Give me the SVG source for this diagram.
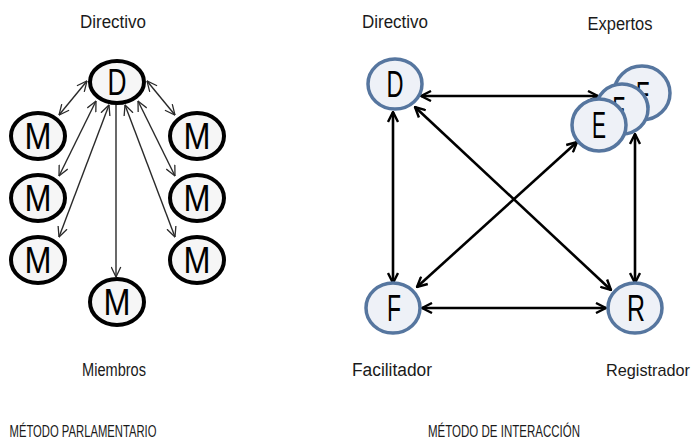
<svg xmlns="http://www.w3.org/2000/svg" width="699" height="445" viewBox="0 0 699 445">
<defs>
<style>
.lbl{font-family:"Liberation Sans",Arial,sans-serif;font-size:18px;fill:#1a1a1a;text-anchor:middle}
.ttl{font-family:"Liberation Sans",Arial,sans-serif;font-size:17px;fill:#1a1a1a;text-anchor:middle}
.ell{fill:#f6f6f6;stroke:#000;stroke-width:4}
.big{font-family:"Liberation Sans",Arial,sans-serif;font-size:36px;fill:#000;text-anchor:middle}
.circ{fill:#eef1f7;stroke:#56769f;stroke-width:3.5}
.thin{stroke:#2a2a2a;stroke-width:1.4;fill:none}
.thick{stroke:#000;stroke-width:2.6;fill:none}
</style>
<marker id="ah" viewBox="0 0 12 12" refX="11.5" refY="6" markerWidth="11" markerHeight="11" markerUnits="userSpaceOnUse" orient="auto-start-reverse">
<path d="M0.5,0.8 L11.5,6 L0.5,11.2" fill="none" stroke="#2a2a2a" stroke-width="1.4"/>
</marker>
<marker id="ahb" viewBox="0 0 12 12" refX="11" refY="6" markerWidth="12" markerHeight="12" markerUnits="userSpaceOnUse" orient="auto-start-reverse">
<path d="M1,1 L11,6 L1,11" fill="none" stroke="#000" stroke-width="2.4"/>
</marker>
</defs>
<rect width="699" height="445" fill="#fff"/>

<!-- Left diagram: connectors -->
<g id="connectors-left">
<line class="thin" x1="87" y1="81" x2="59" y2="115" marker-start="url(#ah)" marker-end="url(#ah)"/>
<line class="thin" x1="96" y1="101" x2="59" y2="176" marker-start="url(#ah)" marker-end="url(#ah)"/>
<line class="thin" x1="109" y1="105" x2="59" y2="237" marker-start="url(#ah)" marker-end="url(#ah)"/>
<line class="thin" x1="147" y1="81" x2="175" y2="115" marker-start="url(#ah)" marker-end="url(#ah)"/>
<line class="thin" x1="138" y1="101" x2="175" y2="176" marker-start="url(#ah)" marker-end="url(#ah)"/>
<line class="thin" x1="125" y1="105" x2="175" y2="237" marker-start="url(#ah)" marker-end="url(#ah)"/>
<line class="thin" x1="116" y1="104" x2="116" y2="277" marker-end="url(#ah)"/>
</g>

<g id="L-D"><ellipse class="ell" cx="117" cy="82" rx="27" ry="21"/><text class="big" x="117" y="95" textLength="19" lengthAdjust="spacingAndGlyphs">D</text></g>
<g id="L-M1"><ellipse class="ell" cx="38" cy="136" rx="27" ry="23"/><text class="big" x="38" y="149" textLength="27" lengthAdjust="spacingAndGlyphs">M</text></g>
<g id="L-M2"><ellipse class="ell" cx="38" cy="198" rx="27" ry="23"/><text class="big" x="38" y="211" textLength="27" lengthAdjust="spacingAndGlyphs">M</text></g>
<g id="L-M3"><ellipse class="ell" cx="38" cy="260" rx="27" ry="23"/><text class="big" x="38" y="273" textLength="27" lengthAdjust="spacingAndGlyphs">M</text></g>
<g id="L-M4"><ellipse class="ell" cx="197" cy="136" rx="27" ry="23"/><text class="big" x="197" y="149" textLength="27" lengthAdjust="spacingAndGlyphs">M</text></g>
<g id="L-M5"><ellipse class="ell" cx="197" cy="198" rx="27" ry="23"/><text class="big" x="197" y="211" textLength="27" lengthAdjust="spacingAndGlyphs">M</text></g>
<g id="L-M6"><ellipse class="ell" cx="197" cy="260" rx="27" ry="23"/><text class="big" x="197" y="273" textLength="27" lengthAdjust="spacingAndGlyphs">M</text></g>
<g id="L-M7"><ellipse class="ell" cx="117" cy="302" rx="27" ry="23"/><text class="big" x="117" y="315" textLength="27" lengthAdjust="spacingAndGlyphs">M</text></g>

<g id="labels-left">
<text class="lbl" x="113" y="28" textLength="66" lengthAdjust="spacingAndGlyphs">Directivo</text>
<text class="lbl" x="114" y="376" textLength="64" lengthAdjust="spacingAndGlyphs">Miembros</text>
<text class="ttl" x="83" y="437" textLength="147" lengthAdjust="spacingAndGlyphs">MÉTODO PARLAMENTARIO</text>
</g>

<!-- Right diagram: connectors -->
<g id="connectors-right">
<line class="thick" x1="421" y1="96" x2="598" y2="96" marker-start="url(#ahb)" marker-end="url(#ahb)"/>
<line class="thick" x1="393" y1="112" x2="393" y2="283" marker-start="url(#ahb)" marker-end="url(#ahb)"/>
<line class="thick" x1="415" y1="107" x2="611" y2="290" marker-start="url(#ahb)" marker-end="url(#ahb)"/>
<line class="thick" x1="417" y1="287" x2="577" y2="142" marker-start="url(#ahb)" marker-end="url(#ahb)"/>
<line class="thick" x1="635" y1="134" x2="635" y2="283" marker-start="url(#ahb)" marker-end="url(#ahb)"/>
<line class="thick" x1="422" y1="308" x2="606" y2="308" marker-start="url(#ahb)" marker-end="url(#ahb)"/>
</g>

<g id="R-D"><ellipse class="circ" cx="395" cy="84" rx="27" ry="25"/><text class="big" x="395" y="97" textLength="17" lengthAdjust="spacingAndGlyphs">D</text></g>
<g id="R-E3"><ellipse class="circ" cx="642" cy="93" rx="28" ry="27"/><text class="big" x="643" y="108" textLength="14" lengthAdjust="spacingAndGlyphs">E</text></g>
<g id="R-E2"><ellipse class="circ" cx="622" cy="109" rx="26" ry="25"/><text class="big" x="619" y="123" textLength="13" lengthAdjust="spacingAndGlyphs">E</text></g>
<g id="R-E1"><ellipse class="circ" cx="599" cy="125" rx="27" ry="26"/><text class="big" x="599" y="138" textLength="14" lengthAdjust="spacingAndGlyphs">E</text></g>
<g id="R-F"><ellipse class="circ" cx="393" cy="308" rx="27" ry="25"/><text class="big" x="394" y="321" textLength="14" lengthAdjust="spacingAndGlyphs">F</text></g>
<g id="R-R"><ellipse class="circ" cx="635" cy="308" rx="27" ry="25"/><text class="big" x="636" y="321" textLength="18" lengthAdjust="spacingAndGlyphs">R</text></g>

<g id="labels-right">
<text class="lbl" x="395" y="28" textLength="66" lengthAdjust="spacingAndGlyphs">Directivo</text>
<text class="lbl" x="620" y="30" textLength="65" lengthAdjust="spacingAndGlyphs">Expertos</text>
<text class="lbl" x="392" y="376" textLength="80" lengthAdjust="spacingAndGlyphs">Facilitador</text>
<text class="lbl" x="648" y="376" style="font-size:17px" textLength="84" lengthAdjust="spacingAndGlyphs">Registrador</text>
<text class="ttl" x="504" y="437" textLength="152" lengthAdjust="spacingAndGlyphs">MÉTODO DE INTERACCIÓN</text>
</g>
</svg>
